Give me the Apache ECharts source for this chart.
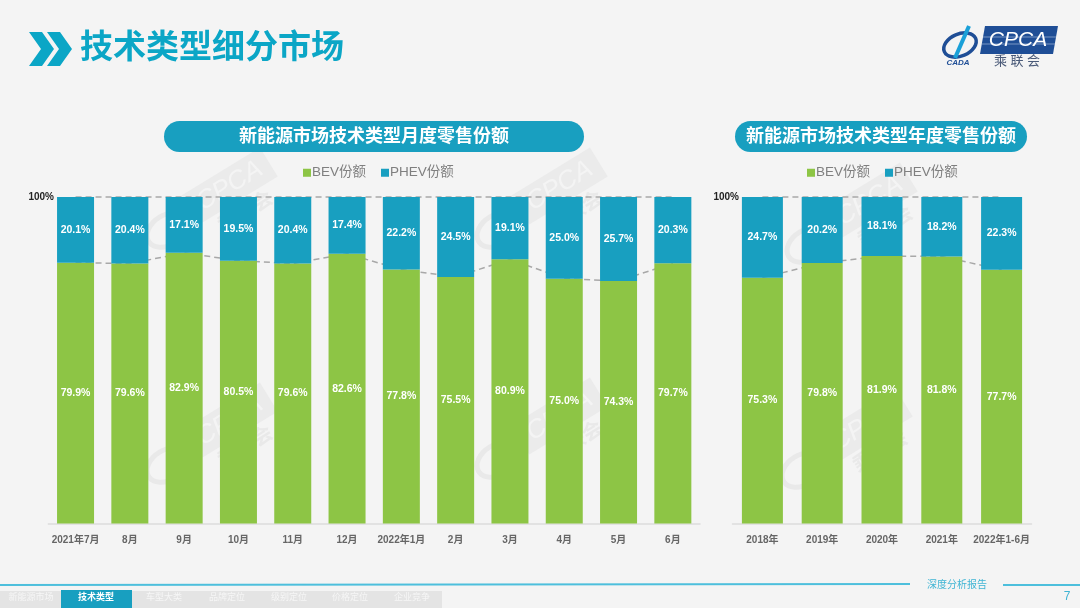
<!DOCTYPE html>
<html>
<head>
<meta charset="utf-8">
<style>
  html, body { margin: 0; padding: 0; background: #f4f4f4; }
  #chart { width: 1080px; height: 608px; }
</style>
<script src="https://cdn.jsdelivr.net/npm/echarts@6/dist/echarts.min.js"></script>
</head>
<body>
<div id="chart"></div>
<script>
const FONT = '"Liberation Sans", "Noto Sans CJK SC", sans-serif';
const BLUE = '#189fc0';
const GREEN = '#8dc545';

const monthCats = ['2021年7月', '8月', '9月', '10月', '11月', '12月', '2022年1月', '2月', '3月', '4月', '5月', '6月'];
const monthBev = [79.9, 79.6, 82.9, 80.5, 79.6, 82.6, 77.8, 75.5, 80.9, 75.0, 74.3, 79.7];
const monthPhev = [20.1, 20.4, 17.1, 19.5, 20.4, 17.4, 22.2, 24.5, 19.1, 25.0, 25.7, 20.3];

const yearCats = ['2018年', '2019年', '2020年', '2021年', '2022年1-6月'];
const yearBev = [75.3, 79.8, 81.9, 81.8, 77.7];
const yearPhev = [24.7, 20.2, 18.1, 18.2, 22.3];

const seriesNames = ['BEV份额', 'PHEV份额'];
const navTabs = ['新能源市场', '技术类型', '车型大类', '品牌定位', '级别定位', '价格定位', '企业竞争'];

const chart = echarts.init(document.getElementById('chart'));

// 一组堆叠柱 + 两条虚线（虚线压在柱子下面，只露出柱间部分）
function buildSeries(idx, bev, phev, barWidth) {
  const label = {
    show: true,
    position: 'inside',
    color: '#fff',
    fontFamily: FONT,
    fontSize: 10.5,
    fontWeight: 'bold',
    formatter: p => p.value.toFixed(1) + '%'
  };
  const dash = { type: [6, 4], color: '#a8a8a8', width: 1.5 };
  return [
    {
      name: seriesNames[0], type: 'bar', stack: 's' + idx, xAxisIndex: idx, yAxisIndex: idx,
      barWidth, data: bev, itemStyle: { color: GREEN }, label, z: 3
    },
    {
      name: seriesNames[1], type: 'bar', stack: 's' + idx, xAxisIndex: idx, yAxisIndex: idx,
      barWidth, data: phev, itemStyle: { color: BLUE }, label, z: 3
    },
    {
      name: 'bev-link', type: 'line', xAxisIndex: idx, yAxisIndex: idx, data: bev,
      symbol: 'none', lineStyle: dash, z: 1, silent: true, clip: false
    },
    {
      name: 'top-link', type: 'line', xAxisIndex: idx, yAxisIndex: idx, data: bev.map(() => 100),
      symbol: 'none', lineStyle: dash, z: 1, silent: true, clip: false
    }
  ];
}

function xAxis(idx, cats) {
  return {
    type: 'category', gridIndex: idx, data: cats,
    axisTick: { show: false },
    axisLine: { lineStyle: { color: '#dcdcdc', width: 1.5 } },
    axisLabel: { interval: 0, color: '#666', fontFamily: FONT, fontSize: 10, fontWeight: 'bold', margin: 12 }
  };
}

function yAxis(idx, margin) {
  return {
    type: 'value', gridIndex: idx, min: 0, max: 100, interval: 100,
    splitLine: { show: false }, axisLine: { show: false }, axisTick: { show: false },
    axisLabel: {
      color: '#222', fontFamily: FONT, fontSize: 10, fontWeight: 'bold', margin,
      padding: [6, 0, 0, 0],
      formatter: v => (v === 100 ? '100%' : '')
    }
  };
}

function legend(left) {
  return {
    data: seriesNames, left, top: 166, padding: 0, icon: 'rect', itemWidth: 8, itemHeight: 8, itemGap: 15,
    selectedMode: false,
    textStyle: { color: '#7f7f7f', fontFamily: FONT, fontSize: 13.5, padding: [0, 0, 0, -4] }
  };
}

function pill(x, width, text) {
  return [
    { type: 'rect', shape: { x, y: 121, width, height: 31, r: 15.5 }, style: { fill: BLUE }, z: 5 },
    {
      type: 'text', x: x + width / 2, y: 137, z: 6,
      style: { text, fill: '#fff', font: 'bold 18px ' + FONT, align: 'center', verticalAlign: 'middle' }
    }
  ];
}

// 背景水印
function watermark(x, y) {
  return {
    type: 'group', x, y, rotation: 0.55, z: 0, silent: true,
    children: [
      { type: 'rect', shape: { x: -40, y: -18, width: 92, height: 34 }, style: { fill: '#ebebeb' } },
      { type: 'text', x: 6, y: -1, style: { text: 'CPCA', fill: '#f4f4f4', font: 'italic 26px ' + FONT, align: 'center', verticalAlign: 'middle' } },
      { type: 'text', x: 6, y: 30, style: { text: '乘联会', fill: '#e9e9e9', font: 'bold 20px ' + FONT, align: 'center', verticalAlign: 'middle' } },
      { type: 'ellipse', shape: { cx: -70, cy: 4, rx: 22, ry: 15 }, style: { fill: 'none', stroke: '#e9e9e9', lineWidth: 5 } }
    ]
  };
}

const graphics = [
  // 标题
  { type: 'polygon', shape: { points: [[29, 32], [42, 32], [54, 49], [42, 66], [29, 66], [41, 49]] }, style: { fill: '#0ba6c6' } },
  { type: 'polygon', shape: { points: [[47, 32], [60, 32], [72, 49], [60, 66], [47, 66], [59, 49]] }, style: { fill: '#0ba6c6' } },
  { type: 'text', x: 80, y: 49, style: { text: '技术类型细分市场', fill: '#0ba6c6', font: 'bold 33px ' + FONT, verticalAlign: 'middle' } },
  // logo
  { type: 'polygon', shape: { points: [[985, 26], [1058, 26], [1053, 54], [980, 54]] }, style: { fill: '#1f4e96' } },
  { type: 'line', shape: { x1: 983, y1: 37, x2: 1056, y2: 37 }, style: { stroke: '#8fa8cf', lineWidth: 0.8 } },
  { type: 'line', shape: { x1: 982, y1: 44, x2: 1055, y2: 44 }, style: { stroke: '#8fa8cf', lineWidth: 0.8 } },
  { type: 'text', x: 1018, y: 40, style: { text: 'CPCA', fill: '#fff', font: 'italic 21px ' + FONT, align: 'center', verticalAlign: 'middle' } },
  { type: 'text', x: 1017, y: 61, style: { text: '乘 联 会', fill: '#4a5a78', font: '13px ' + FONT, align: 'center', verticalAlign: 'middle' } },
  { type: 'ellipse', shape: { cx: 960, cy: 45, rx: 17, ry: 11 }, rotation: 0.4, originX: 960, originY: 45, style: { fill: 'none', stroke: '#1f4e96', lineWidth: 3.5 } },
  { type: 'line', shape: { x1: 969, y1: 26, x2: 955, y2: 58 }, style: { stroke: '#1aa0d8', lineWidth: 4 } },
  { type: 'text', x: 958, y: 63, style: { text: 'CADA', fill: '#1f4e96', font: 'italic bold 8px ' + FONT, align: 'center', verticalAlign: 'middle' } },
  // 水印
  watermark(225, 190), watermark(555, 190), watermark(865, 205),
  watermark(225, 425), watermark(555, 420), watermark(860, 430),
  // 小标题
  ...pill(164, 420, '新能源市场技术类型月度零售份额'),
  ...pill(735, 292, '新能源市场技术类型年度零售份额'),
  // 底部导航
  { type: 'line', shape: { x1: 0, y1: 585, x2: 910, y2: 584 }, style: { stroke: '#4dbfdc', lineWidth: 2 } },
  { type: 'line', shape: { x1: 1003, y1: 585, x2: 1080, y2: 585 }, style: { stroke: '#4dbfdc', lineWidth: 2 } },
  { type: 'text', x: 957, y: 585, style: { text: '深度分析报告', fill: '#3fb4d4', font: '10px ' + FONT, align: 'center', verticalAlign: 'middle' } },
  { type: 'text', x: 1067, y: 597, style: { text: '7', fill: '#3fb4d4', font: '12px ' + FONT, align: 'center', verticalAlign: 'middle' } },
  { type: 'rect', shape: { x: 0, y: 591, width: 442, height: 17 }, style: { fill: '#e4e4e4' } },
  { type: 'rect', shape: { x: 61, y: 590, width: 71, height: 18 }, style: { fill: BLUE } }
];

const navX = [31, 96, 164, 227, 289, 350, 412];
navTabs.forEach((t, i) => {
  graphics.push({
    type: 'text', x: navX[i], y: 598,
    style: { text: t, fill: i === 1 ? '#fff' : '#f6f6f6', font: (i === 1 ? 'bold ' : '') + '9px ' + FONT, align: 'center', verticalAlign: 'middle' }
  });
});

chart.setOption({
  backgroundColor: '#f4f4f4',
  animation: false,
  graphic: graphics,
  legend: [legend(303), legend(807)],
  grid: [
    { left: 48.4, top: 197, width: 651.6, height: 326.5 },
    { left: 732.5, top: 197, width: 299, height: 326.5 }
  ],
  xAxis: [xAxis(0, monthCats), xAxis(1, yearCats)],
  yAxis: [yAxis(0, -5.6), yAxis(1, -6.5)],
  series: [...buildSeries(0, monthBev, monthPhev, 37), ...buildSeries(1, yearBev, yearPhev, 41)]
});
</script>
</body>
</html>
